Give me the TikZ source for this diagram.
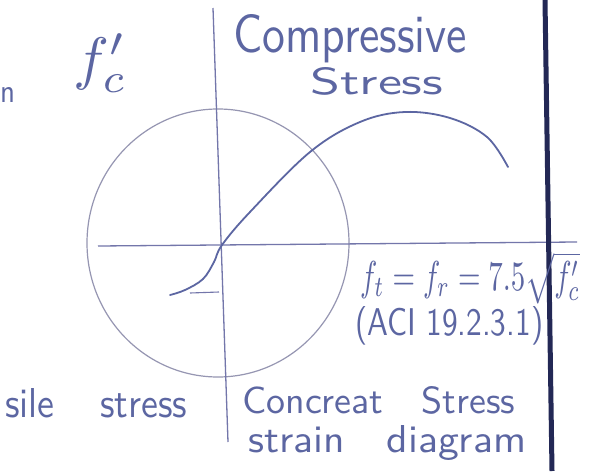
\documentclass[tikz,border=0pt]{standalone}
\usepackage{graphicx}
\definecolor{ink}{RGB}{92,102,162}
\definecolor{axisc}{RGB}{115,118,170}
\definecolor{circc}{RGB}{150,150,178}
\definecolor{thickc}{RGB}{35,40,85}
\tikzset{
  hand/.style={text=ink, inner sep=0pt, anchor=base west, font=\sffamily},
  axisline/.style={draw=axisc, line width=1.3pt},
  circline/.style={draw=circc, line width=1.2pt},
  curveline/.style={draw=ink, line width=1.8pt, line cap=round},
  border/.style={draw=thickc, line width=5pt}
}
\begin{document}
\begin{tikzpicture}[x=1pt,y=-1pt]
\useasboundingbox (0,0) rectangle (594,471);
\fill[white] (0,0) rectangle (594,471);
% named points
\coordinate (vtop) at (213,8);
\coordinate (vbot) at (228,442);
\coordinate (hleft) at (98,246);
\coordinate (hright) at (577,242);
\coordinate (btop) at (545,0);
\coordinate (bbot) at (552,471);
\coordinate (tickl) at (190,293);
\coordinate (tickr) at (219,292);
% circle
\draw[circline] (218,243) ellipse [x radius=131pt, y radius=134pt];
% axes
\draw[axisline] (vtop) -- (vbot);
\draw[axisline] (hleft) -- (hright);
\draw[axisline, line width=1.1pt] (tickl) -- (tickr);
% stress-strain curve
\draw[curveline] plot[smooth, tension=0.6] coordinates {(170,295) (185,290) (203,279) (214,262) (222,245) (250,212) (310,152) (360,122) (405,112) (450,118) (487,137) (508,167)};
% thick border line
\draw[border] (btop) -- (bbot);
% texts
\node[hand] (fc) at (73,78) {\resizebox{54pt}{44pt}{$f'_c$}};
\node[hand] (n) at (0,102) {\resizebox{15pt}{15pt}{n}};
\node[hand] (comp) at (233,52) {\resizebox{234pt}{38pt}{Compressive}};
\node[hand] (stress) at (310,94) {\resizebox{133pt}{27pt}{Stress}};
\node[hand] (fr) at (360,290) {\resizebox{220pt}{38pt}{$f_t=f_r=7.5\sqrt{f'_c}$}};
\node[hand] (aci) at (355,335) {\resizebox{188pt}{29pt}{(ACI 19.2.3.1)}};
\node[hand] (tens) at (5,417) {\resizebox{182pt}{29pt}{sile\hspace{1.2em}stress}};
\node[hand] (cs) at (242,413) {\resizebox{273pt}{27pt}{Concreat\hspace{1em}Stress}};
\node[hand] (sd) at (248,452) {\resizebox{278pt}{27pt}{strain\hspace{1em}diagram}};
\end{tikzpicture}
\end{document}
